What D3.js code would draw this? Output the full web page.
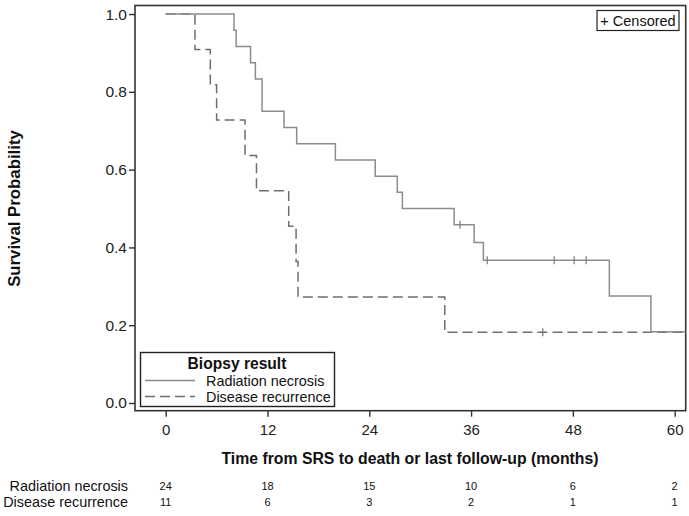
<!DOCTYPE html>
<html><head><meta charset="utf-8">
<script src="https://cdn.jsdelivr.net/npm/d3@7"></script>
<style>body{margin:0;background:#fff}svg{display:block;font-family:"Liberation Sans",Arial,sans-serif}</style>
</head><body><svg id="c" width="689" height="516"></svg>
<script>
// Kaplan-Meier step data: event times (months) and survival after each step
const rnTimes = [0, 8.05, 8.3, 10.0, 10.57, 11.36, 13.95, 15.44, 20.0, 24.7, 27.3, 27.9, 34.0, 36.36, 37.45, 52.3, 57.2, 61.3];
const rnSurv  = [1.0, 0.9583, 0.9167, 0.875, 0.8333, 0.75, 0.7083, 0.6667, 0.625, 0.5833, 0.5417, 0.5, 0.4583, 0.4125, 0.3667, 0.275, 0.1833, 0.1833];
const rnCensor = [34.7, 37.9, 45.8, 48.15, 49.56];
const drTimes = [0, 3.45, 5.26, 6.0, 9.35, 10.7, 14.5, 15.37, 15.6, 32.9, 61.3];
const drSurv  = [1.0, 0.9091, 0.8182, 0.7273, 0.6364, 0.5455, 0.4545, 0.3636, 0.2727, 0.1818, 0.1818];
const drCensor = [44.45];
const xTicks = [0, 12, 24, 36, 48, 60];
const yTicks = [0, 0.2, 0.4, 0.6, 0.8, 1.0];
const groups = ["Radiation necrosis", "Disease recurrence"];
const atRiskRN = [24, 18, 15, 10, 6, 2];
const atRiskDR = [11, 6, 3, 2, 1, 1];

const svg = d3.select("#c");
const L = 135, R = 685.7, T = 5.5, B = 410.7;
const x = d3.scaleLinear().domain([-3.62, 61.3]).range([L, R]);
const y = d3.scaleLinear().domain([-0.0198, 1.022]).range([B, T]);
const axisColor = "#333";

// frame
svg.append("rect").attr("x", L).attr("y", T).attr("width", R - L).attr("height", B - T)
  .attr("fill", "none").attr("stroke", axisColor).attr("stroke-width", 1.6);

// y axis
const ya = svg.append("g").attr("transform", `translate(${L},0)`)
  .call(d3.axisLeft(y).tickValues(yTicks).tickFormat(d3.format(".1f")).tickSize(6).tickPadding(2));
ya.select(".domain").remove();
ya.selectAll("line").attr("stroke", axisColor).attr("stroke-width", 1.4);
ya.selectAll("text").attr("font-size", 15.5).attr("fill", "#222").attr("font-family", "Liberation Sans, Arial, sans-serif");

// x axis
const xa = svg.append("g").attr("transform", `translate(0,${B})`)
  .call(d3.axisBottom(x).tickValues(xTicks).tickFormat(d3.format("d")).tickSize(6).tickPadding(8));
xa.select(".domain").remove();
xa.selectAll("line").attr("stroke", axisColor).attr("stroke-width", 1.4);
xa.selectAll("text").attr("font-size", 15).attr("fill", "#222").attr("font-family", "Liberation Sans, Arial, sans-serif");

// titles
svg.append("text").attr("transform", `translate(20,${(y(0)+y(1))/2+0}) rotate(-90)`)
  .attr("text-anchor", "middle").attr("font-weight", "bold").attr("font-size", 16.8).attr("fill", "#111")
  .text("Survival Probability");
svg.append("text").attr("x", 410).attr("y", 464)
  .attr("text-anchor", "middle").attr("font-weight", "bold").attr("font-size", 15.8).attr("fill", "#111")
  .text("Time from SRS to death or last follow-up (months)");

// curves
const clip = svg.append("clipPath").attr("id", "pc").append("rect")
  .attr("x", L).attr("y", T).attr("width", R - L).attr("height", B - T);
const line = d3.line().x(d => x(d[0])).y(d => y(d[1])).curve(d3.curveStepAfter);
const g = svg.append("g").attr("clip-path", "url(#pc)");
g.append("path").datum(drTimes.map((t, i) => [t, drSurv[i]])).attr("d", line)
  .attr("fill", "none").attr("stroke", "#6e6e6e").attr("stroke-width", 1.5).attr("stroke-dasharray", "10,5");
g.append("path").datum(rnTimes.map((t, i) => [t, rnSurv[i]])).attr("d", line)
  .attr("fill", "none").attr("stroke", "#8c8c8c").attr("stroke-width", 1.5);

function survAt(times, surv, t) { let s = surv[0]; times.forEach((tt, i) => { if (tt <= t) s = surv[i]; }); return s; }
g.selectAll(".crn").data(rnCensor).join("line")
  .attr("x1", d => x(d)).attr("x2", d => x(d))
  .attr("y1", d => y(survAt(rnTimes, rnSurv, d)) - 4).attr("y2", d => y(survAt(rnTimes, rnSurv, d)) + 4)
  .attr("stroke", "#7a7a7a").attr("stroke-width", 1.2);
g.selectAll(".cdr").data(drCensor).join("line")
  .attr("x1", d => x(d)).attr("x2", d => x(d))
  .attr("y1", d => y(survAt(drTimes, drSurv, d)) - 4).attr("y2", d => y(survAt(drTimes, drSurv, d)) + 4)
  .attr("stroke", "#6e6e6e").attr("stroke-width", 1.2);

// censored box
svg.append("rect").attr("x", 597).attr("y", 10.5).attr("width", 82).attr("height", 20)
  .attr("fill", "#fff").attr("stroke", "#222").attr("stroke-width", 1.2);
svg.append("text").attr("x", 638).attr("y", 25.5).attr("text-anchor", "middle")
  .attr("font-size", 14.5).attr("fill", "#111").text("+ Censored");

// legend
svg.append("rect").attr("x", 140.5).attr("y", 352.5).attr("width", 194).attr("height", 54)
  .attr("fill", "#fff").attr("stroke", "#222").attr("stroke-width", 1.4);
svg.append("text").attr("x", 237).attr("y", 369).attr("text-anchor", "middle")
  .attr("font-weight", "bold").attr("font-size", 15.6).attr("fill", "#111").text("Biopsy result");
const legY = [381, 397];
const legStyles = [{c: "#8c8c8c", d: null}, {c: "#6e6e6e", d: "10,5"}];
groups.forEach((name, i) => {
  const ln = svg.append("line").attr("x1", 145).attr("x2", 195).attr("y1", legY[i] - 0.5).attr("y2", legY[i] - 0.5)
    .attr("stroke", legStyles[i].c).attr("stroke-width", 1.5);
  if (legStyles[i].d) ln.attr("stroke-dasharray", legStyles[i].d);
  svg.append("text").attr("x", 206).attr("y", legY[i] + 5).attr("font-size", 14.4).attr("fill", "#111").text(name);
});

// number at risk
const riskY = [491, 507];
[atRiskRN, atRiskDR].forEach((arr, r) => {
  svg.append("text").attr("x", 128).attr("y", riskY[r]).attr("text-anchor", "end")
    .attr("font-size", 14.4).attr("fill", "#111").text(groups[r]);
  svg.selectAll(null).data(arr).join("text")
    .attr("x", (d, i) => x(xTicks[i])).attr("y", riskY[r] - 1).attr("text-anchor", "middle")
    .attr("font-size", 11).attr("fill", "#111").text(d => d);
});
</script></body></html>
